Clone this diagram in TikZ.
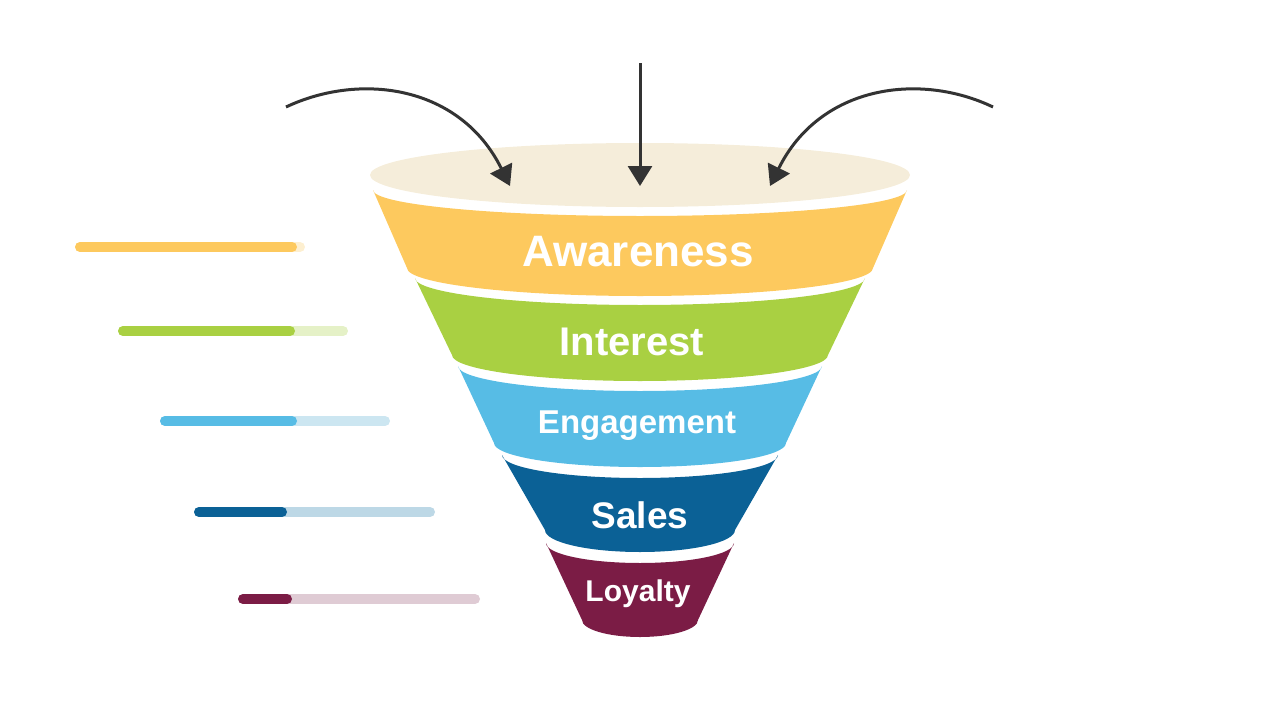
\documentclass[tikz,border=0pt]{standalone}
\usepackage{fontspec}
\setmainfont{Liberation Sans}
\usetikzlibrary{arrows.meta}
\definecolor{cA}{HTML}{FDC95E}\definecolor{lA}{HTML}{FDEFD0}
\definecolor{cI}{HTML}{A9D042}\definecolor{lI}{HTML}{E5F1C7}
\definecolor{cE}{HTML}{57BCE5}\definecolor{lE}{HTML}{CCE6F1}
\definecolor{cS}{HTML}{0B6196}\definecolor{lS}{HTML}{BDD8E6}
\definecolor{cL}{HTML}{7B1C45}\definecolor{lL}{HTML}{DFCBD4}
\definecolor{beige}{HTML}{F5EDDA}\definecolor{arr}{HTML}{333333}
\tikzset{
 arrow/.style={draw=arr,line width=3pt,-{Triangle[length=20pt,width=24pt]}},
 lbl/.style={text=white,font=\bfseries},
 bar/.style={line width=10pt,line cap=round}
}
% band: xl top, yt, dip top, xlb, yb, dip bottom
\newcommand{\band}[7]{%
 \fill[#7] (#1,#2) -- (#4,#5) arc[start angle=180,end angle=0,x radius={640-#4},y radius=#6]
   -- ({1280-#1},#2) arc[start angle=0,end angle=180,x radius={640-#1},y radius=#3] -- cycle;}
\begin{document}
\begin{tikzpicture}[x=1pt,y=-1pt]
\useasboundingbox (0,0) rectangle (1280,720);
\fill[beige] (640,175) ellipse[x radius=270,y radius=32];
\band{373}{190}{26}{407}{268}{28}{cA}
\band{415}{278}{27}{452}{355}{26}{cI}
\band{458}{366}{25}{494}{443}{24}{cE}
\band{502}{455}{23}{545}{530}{22}{cS}
\band{546}{543}{20}{582}{620}{17}{cL}
\node[lbl,font=\bfseries\fontsize{44}{44}\selectfont] (aw) at (638,252) {Awareness};
\node[lbl,font=\bfseries\fontsize{40}{40}\selectfont] (in) at (632,342) {Interest};
\node[lbl,font=\bfseries\fontsize{33}{33}\selectfont] (en) at (637,426) {Engagement};
\node[lbl,font=\bfseries\fontsize{37}{37}\selectfont] (sa) at (640,515) {Sales};
\node[lbl,font=\bfseries\fontsize{30}{30}\selectfont] (lo) at (638,594) {Loyalty};
\coordinate (m0) at (640,63); \coordinate (m1) at (640,186);
\coordinate (l0) at (286,107); \coordinate (l1) at (510,186);
\coordinate (r0) at (993,107); \coordinate (r1) at (770,186);
\draw[arrow] (m0) -- (m1);
\draw[arrow] (l0) .. controls (360,72) and (460,85) .. (l1);
\draw[arrow] (r0) .. controls (920,72) and (820,85) .. (r1);
\draw[bar,lA] (80,247) -- (300,247); \draw[bar,cA] (80,247) -- (292,247);
\draw[bar,lI] (123,331) -- (343,331); \draw[bar,cI] (123,331) -- (290,331);
\draw[bar,lE] (165,421) -- (385,421); \draw[bar,cE] (165,421) -- (292,421);
\draw[bar,lS] (199,512) -- (430,512); \draw[bar,cS] (199,512) -- (282,512);
\draw[bar,lL] (243,599) -- (475,599); \draw[bar,cL] (243,599) -- (287,599);
\end{tikzpicture}
\end{document}
